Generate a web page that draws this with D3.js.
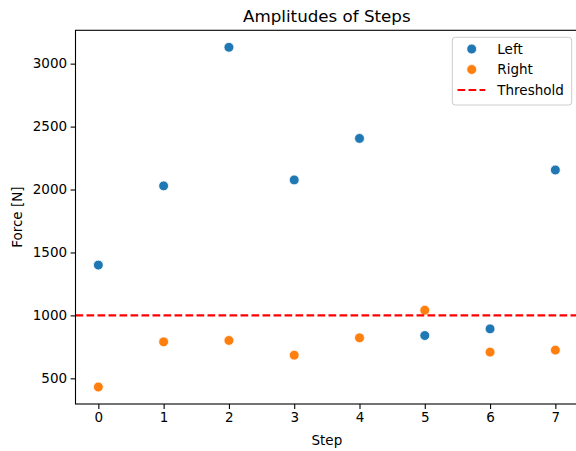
<!DOCTYPE html>
<html>
<head>
<meta charset="utf-8">
<script src="https://cdn.jsdelivr.net/npm/d3@7"></script>
<style>
  html, body { margin: 0; padding: 0; background: #fff; }
  svg { display: block; }
  text { font-family: "DejaVu Sans", sans-serif; fill: #000; }
</style>
</head>
<body>
<svg id="chart" width="576" height="451"></svg>
<script>
const steps = [0, 1, 2, 3, 4, 5, 6, 7];
const leftForce = [1400, 2029, 3130, 2076, 2406, 840, 893, 2155];
const rightForce = [431, 790, 801, 684, 822, 1041, 708, 724];
const threshold = 1000;
const xTicks = [0, 1, 2, 3, 4, 5, 6, 7];
const yTicks = [500, 1000, 1500, 2000, 2500, 3000];
const seriesNames = ["Left", "Right", "Threshold"];

const svg = d3.select("#chart");
const m = { left: 75.5, top: 30.3, right: 578.2, bottom: 404 };

const allY = leftForce.concat(rightForce);
const yMin = d3.min(allY), yMax = d3.max(allY);
const yPad = (yMax - yMin) * 0.05;
const xMin = d3.min(steps), xMax = d3.max(steps);
const xPad = (xMax - xMin) * 0.05;

const x = d3.scaleLinear().domain([xMin - xPad, xMax + xPad]).range([m.left, m.right]);
const y = d3.scaleLinear().domain([yMin - yPad, yMax + yPad]).range([m.bottom, m.top]);

const fs = 13.5;
const R = 4.9;

const xAxis = d3.axisBottom(x).tickValues(xTicks).tickFormat(d3.format("d")).tickSize(4.9).tickPadding(3.5);
const yAxis = d3.axisLeft(y).tickValues(yTicks).tickFormat(d3.format("d")).tickSize(4.9).tickPadding(3.5);

const gx = svg.append("g").attr("transform", `translate(0,${m.bottom})`).call(xAxis);
const gy = svg.append("g").attr("transform", `translate(${m.left},0)`).call(yAxis);
[gx, gy].forEach(g => {
  g.select(".domain").remove();
  g.selectAll(".tick line").attr("stroke", "#000").attr("stroke-width", 1.1);
  g.selectAll(".tick text").attr("font-size", fs).attr("font-family", "DejaVu Sans, sans-serif").attr("fill", "#000");
});

const clip = svg.append("clipPath").attr("id", "clip").append("rect")
  .attr("x", m.left).attr("y", m.top).attr("width", m.right - m.left).attr("height", m.bottom - m.top);
const plot = svg.append("g").attr("clip-path", "url(#clip)");

plot.selectAll(".left").data(steps).enter().append("circle")
  .attr("cx", d => x(d)).attr("cy", (d, i) => y(leftForce[i])).attr("r", R)
  .attr("fill", "#1f77b4").attr("stroke", "#fff").attr("stroke-width", 0.75);
plot.selectAll(".right").data(steps).enter().append("circle")
  .attr("cx", d => x(d)).attr("cy", (d, i) => y(rightForce[i])).attr("r", R)
  .attr("fill", "#ff7f0e").attr("stroke", "#fff").attr("stroke-width", 0.75);

plot.append("line")
  .attr("x1", m.left).attr("x2", m.right).attr("y1", y(threshold)).attr("y2", y(threshold))
  .attr("stroke", "red").attr("stroke-width", 2.08).attr("stroke-dasharray", "7.7,3.3");

svg.append("rect").attr("x", m.left).attr("y", m.top)
  .attr("width", m.right - m.left).attr("height", m.bottom - m.top)
  .attr("fill", "none").attr("stroke", "#000").attr("stroke-width", 1.1);

svg.append("text").attr("x", (m.left + m.right) / 2).attr("y", 21.5)
  .attr("text-anchor", "middle").attr("font-size", 16.7).text("Amplitudes of Steps");
svg.append("text").attr("x", (m.left + m.right) / 2).attr("y", 444.5)
  .attr("text-anchor", "middle").attr("font-size", fs).text("Step");
svg.append("text").attr("transform", `translate(21.5,${(m.top + m.bottom) / 2}) rotate(-90)`)
  .attr("text-anchor", "middle").attr("font-size", fs).text("Force [N]");

const lg = svg.append("g");
lg.append("rect").attr("x", 452.3).attr("y", 37.3).attr("width", 119.4).attr("height", 67.7)
  .attr("rx", 3).attr("fill", "#fff").attr("fill-opacity", 0.8)
  .attr("stroke", "#ccc").attr("stroke-width", 1);
const rows = [49, 69.5, 90];
lg.append("circle").attr("cx", 471.7).attr("cy", rows[0]).attr("r", R).attr("fill", "#1f77b4").attr("stroke", "#fff").attr("stroke-width", 0.75);
lg.append("circle").attr("cx", 471.7).attr("cy", rows[1]).attr("r", R).attr("fill", "#ff7f0e").attr("stroke", "#fff").attr("stroke-width", 0.75);
lg.append("line").attr("x1", 457.5).attr("x2", 485.3).attr("y1", rows[2]).attr("y2", rows[2])
  .attr("stroke", "red").attr("stroke-width", 2.08).attr("stroke-dasharray", "7.7,3.3");
seriesNames.forEach((n, i) => {
  lg.append("text").attr("x", 497.3).attr("y", rows[i]).attr("dy", "0.36em")
    .attr("font-size", fs).text(n);
});
</script>
</body>
</html>
